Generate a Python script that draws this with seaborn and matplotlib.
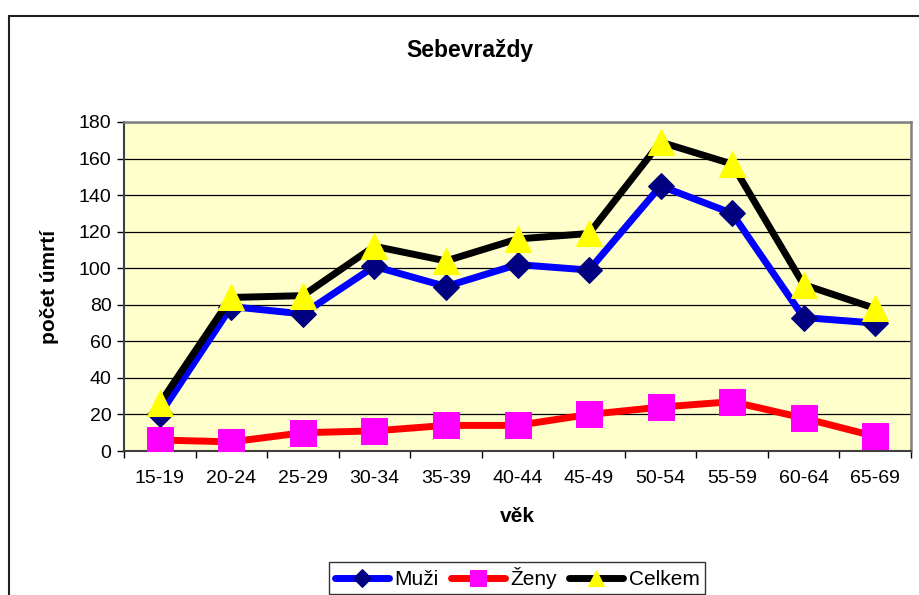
import matplotlib
matplotlib.use("Agg")
import matplotlib.pyplot as plt
from matplotlib.patches import Rectangle
import seaborn as sns
import pandas as pd
import numpy as np

categories = ["15-19", "20-24", "25-29", "30-34", "35-39", "40-44",
              "45-49", "50-54", "55-59", "60-64", "65-69"]
muzi = [20, 79, 75, 101, 90, 102, 99, 145, 130, 73, 70]
zeny = [6, 5, 10, 11, 14, 14, 20, 24, 27, 18, 8]
celkem = [26, 84, 85, 112, 104, 116, 119, 169, 157, 91, 78]
y_ticks = [0, 20, 40, 60, 80, 100, 120, 140, 160, 180]

sns.set_theme(style="white")
plt.rcParams['font.family'] = ['Liberation Sans', 'DejaVu Sans']
plt.rcParams['text.color'] = 'black'
plt.rcParams['axes.labelcolor'] = 'black'
plt.rcParams['xtick.color'] = 'black'
plt.rcParams['ytick.color'] = 'black'

fig = plt.figure(figsize=(9.19, 5.95), dpi=100)
W, H = 919, 595
ax = fig.add_axes([124 / W, 1 - 451 / H, (911 - 124) / W, (451 - 122) / H])
ax.set_facecolor("#FFFFCC")

pos = np.arange(len(categories))
df = pd.DataFrame({"pos": pos, "Muži": muzi, "Ženy": zeny, "Celkem": celkem})

sns.lineplot(data=df, x="pos", y="Muži", ax=ax, color="#0000FF", lw=5,
             marker="D", markersize=13.5, markerfacecolor="#000080",
             markeredgecolor="#000080", label="Muži", zorder=3)
sns.lineplot(data=df, x="pos", y="Ženy", ax=ax, color="#FF0000", lw=5,
             marker="s", markersize=18.5, markerfacecolor="#FF00FF",
             markeredgecolor="#FF00FF", label="Ženy", zorder=4)
sns.lineplot(data=df, x="pos", y="Celkem", ax=ax, color="#000000", lw=5,
             marker="^", markersize=18.5, markerfacecolor="#FFFF00",
             markeredgecolor="#FFFF00", label="Celkem", zorder=5)

ax.set_xlim(-0.5, len(categories) - 0.5)
ax.set_ylim(0, 180)
ax.set_yticks(y_ticks)
ax.set_yticklabels([str(v) for v in y_ticks], fontsize=14)
ax.set_xticks(pos)
ax.set_xticklabels(categories, fontsize=14)
ax.set_xticks(np.arange(-0.5, len(categories), 1.0), minor=True)
ax.tick_params(axis="x", which="major", length=0, pad=14)
ax.tick_params(axis="x", which="minor", length=5, width=1, color="black",
               direction="out", bottom=True)
ax.tick_params(axis="y", which="major", length=5, width=1, color="black",
               direction="out", left=True, pad=4)
ax.yaxis.grid(True, color="black", lw=0.9)
ax.xaxis.grid(False)
ax.set_axisbelow(True)

for s in ["top", "right"]:
    ax.spines[s].set_color("#808080")
    ax.spines[s].set_linewidth(1.8)
for s in ["left", "bottom"]:
    ax.spines[s].set_color("#404040")
    ax.spines[s].set_linewidth(1.5)

ax.set_xlabel("věk", fontsize=15, fontweight="bold", labelpad=14)
ax.set_ylabel("počet úmrtí", fontsize=15, fontweight="bold", labelpad=14)

fig.text(470 / W, 1 - 50 / H, "Sebevraždy", fontsize=16.5, fontweight="bold",
         ha="center", va="center", color="black")

leg = ax.legend(loc="upper center", bbox_to_anchor=(517 / W, 1 - 562 / H),
                bbox_transform=fig.transFigure, ncol=3, fontsize=15,
                frameon=True, fancybox=False, edgecolor="black",
                handlelength=2.6, handletextpad=0.25, columnspacing=0.6,
                borderpad=0.25, borderaxespad=0.0, markerscale=0.65)
leg.get_frame().set_linewidth(1.0)
for t in leg.get_texts():
    t.set_color("black")

fig.patches.append(Rectangle((9 / W, -0.1), 1.2, 1.1 - 16 / H,
                             transform=fig.transFigure, fill=False,
                             edgecolor="#202020", lw=1.5, zorder=0))

fig.savefig("out.png", dpi=100)
